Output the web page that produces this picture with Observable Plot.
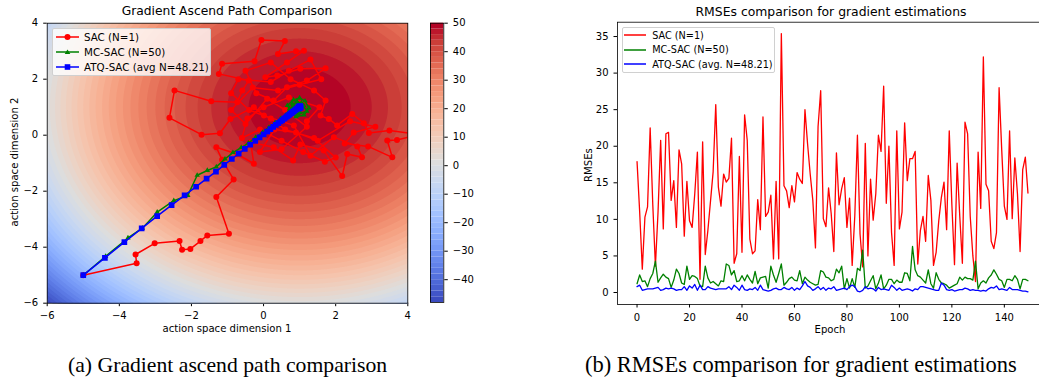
<!DOCTYPE html>
<html><head><meta charset="utf-8">
<script src="https://cdn.jsdelivr.net/npm/d3@7"></script>
<script src="https://cdn.jsdelivr.net/npm/@observablehq/plot@0.6"></script>
<style>
html,body{margin:0;padding:0;width:1039px;height:383px;overflow:hidden;background:#fff;}
#root{position:relative;width:1039px;height:383px;font-family:"DejaVu Sans",sans-serif;color:#000;overflow:hidden;}
.abs{position:absolute;white-space:nowrap;}
.c{transform:translate(-50%,-50%);}
.rot{transform:translate(-50%,-50%) rotate(-90deg);}
.legend{position:absolute;box-sizing:border-box;border:1px solid #d0d0d0;border-radius:2px;}
.row{position:absolute;left:0;height:14px;display:flex;align-items:center;}
.row svg{margin-right:5px;}
.cap{position:absolute;font-family:"Liberation Serif","Times New Roman",serif;font-size:21.7px;white-space:nowrap;transform:translateY(-50%);}
svg{overflow:visible}
</style></head><body><div id="root"></div>
<script>
// ---------- data ----------
const epochs = d3.range(0, 150);
const sacRmse = [17.9,11.0,3.2,10.3,11.7,22.5,12.0,3.6,11.0,20.8,
8.7,21.7,21.9,12.6,15.3,8.9,19.5,17.6,7.7,15.2,
9.8,8.9,13.5,19.2,1.8,20.6,5.2,8.5,12.5,16.5,
25.7,14.4,11.8,16.2,15.1,15.6,21.1,4.0,5.3,18.6,
5.5,24.3,20.8,7.3,5.3,5.7,12.7,8.6,24.0,10.4,
11.0,13.3,4.6,15.2,4.6,35.4,14.6,13.9,11.6,14.6,
12.4,16.4,15.5,14.9,25.0,20.3,16.2,12.6,6.1,22.7,
27.6,10.1,9.0,14.3,10.8,5.6,19.1,12.0,14.2,15.7,
8.9,12.9,3.7,10.5,21.5,8.0,3.5,20.4,5.0,15.5,
9.9,13.5,21.5,19.3,28.2,12.2,20.0,8.2,3.7,22.1,
8.7,11.0,23.2,15.3,18.3,18.3,19.3,3.9,8.5,10.4,
7.0,16.0,12.6,3.7,5.5,9.8,13.0,15.1,8.6,22.1,
12.0,3.8,17.7,10.5,4.0,23.3,21.7,10.4,5.0,1.5,
19.2,11.5,32.2,14.8,13.9,7.0,6.0,8.2,28.0,19.5,
11.8,10.0,22.1,10.1,18.4,13.5,5.6,16.8,18.5,13.6];
const mcRmse = [1.2,2.4,1.5,1.6,0.8,1.9,2.6,4.3,1.4,2.0,
2.5,2.1,1.9,0.7,1.7,3.2,2.6,1.3,1.1,3.6,
1.8,2.3,2.2,1.9,0.9,0.8,3.6,2.0,1.3,1.5,
1.2,0.9,1.6,1.5,3.9,3.7,2.4,3.0,1.5,1.6,
2.3,1.6,2.4,1.8,1.3,2.9,1.2,2.0,2.1,2.2,
0.6,3.6,2.4,1.4,2.6,3.9,1.0,1.4,1.9,2.1,
1.7,1.6,3.0,1.2,2.1,1.7,1.4,1.2,1.0,1.1,
3.0,2.8,2.1,2.0,1.6,1.8,3.2,2.7,3.6,0.5,
1.9,0.6,1.9,0.7,3.3,3.0,5.8,0.6,0.9,1.6,
2.3,0.5,1.3,2.4,0.5,1.0,1.8,1.8,1.2,1.7,
1.4,1.4,2.7,2.6,1.6,6.3,3.1,2.3,2.1,1.7,
1.3,3.1,1.2,0.6,2.7,1.8,1.3,1.2,1.0,0.6,
0.8,1.0,1.2,2.1,1.7,2.1,1.9,1.9,1.7,4.3,
0.5,1.3,1.6,1.3,2.0,2.4,3.1,2.5,1.8,1.6,
0.7,1.8,1.8,1.6,2.3,1.8,0.5,1.8,1.8,1.6];
const atqRmse = [0.8,1.0,0.3,0.4,0.5,0.5,0.5,0.6,0.7,0.3,
0.4,0.6,0.5,0.6,0.5,0.3,0.4,0.4,0.8,0.3,
0.9,0.6,1.1,0.3,1.0,0.4,0.4,0.8,0.6,0.5,
0.4,0.5,0.5,0.5,0.5,0.8,0.4,1.0,0.7,0.3,
1.0,0.4,0.3,0.5,0.4,0.7,0.3,1.0,0.4,0.3,
0.2,0.3,0.5,0.6,0.4,0.4,0.7,0.5,0.4,0.7,
0.3,0.6,0.4,0.9,1.5,0.9,0.7,0.3,0.5,0.8,
0.4,0.7,0.3,0.6,0.5,0.8,0.3,0.4,0.5,0.6,
0.4,0.8,1.0,0.8,0.2,0.1,0.3,0.8,0.5,0.6,
0.5,0.2,0.7,0.4,0.5,0.4,0.3,1.0,0.7,0.3,
0.6,0.3,0.4,0.5,0.4,0.2,0.5,0.4,0.8,0.8,
0.7,0.6,0.5,0.4,0.3,0.3,1.3,1.0,0.4,0.3,
0.4,0.2,0.3,0.4,0.4,0.6,0.5,0.3,0.4,0.3,
0.3,0.2,0.3,0.2,0.5,0.7,0.6,0.9,0.4,0.5,
0.4,0.3,0.7,0.4,0.4,0.4,0.3,0.2,0.2,0.1];

const sacPathX = [-5,-3.52,-3.55,-3.02,-2.33,-2.26,-2.03,-1.75,-1.56,-0.96,-1.31,-0.83,-1.15,-1.31,-0.72,-0.27,-0.36,0.28,0.82,1.02,1.67,2.18,2.32,2.73,2.60,1.95,1.30,0.84,0.01,-0.27,-0.92,-1.21,-1.72,-2.61,-2.47,-1.45,-0.73,-0.59,-0.41,-1.24,-1.15,-0.25,-0.06,0.59,0.40,0.90,1.12,0.65,0.05,0.38,1.02,1.72,1.20,0.65,0.28,-0.20,-0.50,0.20,0.75,1.40,1.72,1.58,1.81,2.04,2.46,2.78,2.92,3.49,4.30,3.70,3.43,3.57,2.90,2.25,2.50,3.10,2.40,1.50,0.90,0.30,-0.10,0.50,1.20,0.60,0.10,-0.50,-0.90,-0.30,0.40,1.00,1.60,1.30,0.70,0.20,-0.70,-0.90,-0.40,0.20,0.60,1.40,2.00,1.70,1.10,0.50,-0.10,-0.60,-0.45,0.00,0.70,1.55,1.20];
const sacPathY = [-5,-4.57,-4.26,-3.86,-3.78,-4.09,-4.06,-3.78,-3.58,-3.52,-2.21,-1.58,-0.88,-0.43,-0.68,-1.02,-0.25,-0.43,-0.90,-0.33,-0.55,-1.46,-0.67,-0.79,-0.40,-0.07,-0.73,0.35,0.70,1.00,0.58,0.07,0.02,0.62,1.60,1.21,1.18,1.60,1.95,2.19,2.55,2.64,3.40,3.36,2.90,3.00,3.02,2.60,2.07,2.13,2.37,2.39,1.95,1.71,1.24,1.50,2.30,2.60,2.00,1.60,1.24,0.70,0.58,0.35,0.76,0.43,0.08,0.17,0.02,-0.17,-0.19,-0.79,-0.40,-0.30,0.10,0.30,0.50,-0.20,0.10,0.20,-0.60,-0.50,0.30,0.90,1.30,0.40,0.90,1.70,1.60,1.80,2.00,2.70,2.30,1.90,2.00,1.50,0.90,0.60,0.20,-0.10,-0.80,-0.95,-0.60,-0.20,0.20,-0.10,0.60,1.00,1.35,1.00,0.50];
const mcPathX = [-5,-4.38,-3.76,-3.36,-2.95,-2.49,-2.10,-1.84,-1.56,-1.31,-1.07,-0.85,-0.62,-0.42,-0.22,-0.03,0.15,0.32,0.48,0.62,0.72,0.66,0.83,1.00,1.15,1.26,1.12,0.90,0.73,0.80,1.05,1.20,0.96,0.78,0.92,1.12,1.00,0.85,1.05];
const mcPathY = [-5,-4.33,-3.67,-3.32,-2.75,-2.34,-2.15,-1.43,-1.26,-1.13,-0.85,-0.62,-0.44,-0.28,-0.08,0.10,0.28,0.45,0.60,0.72,0.95,1.06,1.26,1.33,1.22,0.97,0.72,0.66,0.80,1.12,1.16,0.86,0.75,0.93,1.22,1.05,0.84,0.98,1.00];
const atqPathX = [-5,-4.40,-3.86,-3.38,-2.95,-2.55,-2.19,-1.87,-1.58,-1.32,-1.09,-0.88,-0.69,-0.52,-0.37,-0.23,-0.11,0.00,0.10,0.19,0.27,0.34,0.41,0.47,0.52,0.57,0.61,0.65,0.69,0.72,0.75,0.78,0.81,0.84,0.87,0.90,0.93,0.96,0.99,1.02,1.00,0.97,1.03,0.99,1.01];
const atqPathY = [-5,-4.38,-3.82,-3.33,-2.89,-2.50,-2.15,-1.84,-1.55,-1.30,-1.06,-0.85,-0.66,-0.49,-0.34,-0.20,-0.08,0.03,0.13,0.22,0.30,0.37,0.43,0.49,0.54,0.59,0.63,0.67,0.71,0.74,0.77,0.80,0.83,0.86,0.89,0.92,0.95,0.98,1.01,1.03,0.97,1.02,0.99,0.96,1.04];

// objective surface: peak value and its location
const fieldPeak = 50;
const fieldCenter = [1, 1];
const levels = d3.range(-48, 51, 2);
const pathTicks = [-6, -4, -2, 0, 2, 4];
const colorbarTicks = [-40, -30, -20, -10, 0, 10, 20, 30, 40, 50];
const epochTicks = [0, 20, 40, 60, 80, 100, 120, 140];
const rmseTicks = [0, 5, 10, 15, 20, 25, 30, 35];
const seriesNames = ["SAC (N=1)", "MC-SAC (N=50)", "ATQ-SAC (avg N=48.21)"];
const rmseNames = ["SAC (N=1)", "MC-SAC (N=50)", "ATQ-SAC (avg. N=48.21)"];
const seriesColors = ["#ff0000", "#008000", "#0000ff"];
const coolwarm = ["rgb(59,76,192)","rgb(77,104,215)","rgb(98,130,234)","rgb(119,154,247)","rgb(141,176,254)","rgb(163,194,255)","rgb(184,208,249)","rgb(204,217,238)","rgb(221,221,221)","rgb(236,211,197)","rgb(245,196,173)","rgb(247,177,148)","rgb(244,154,123)","rgb(236,127,99)","rgb(222,96,77)","rgb(203,62,56)","rgb(180,4,38)"];

// ---------- helpers ----------
const root = document.getElementById("root");
const fmt = d3.format("d");
const interp = d3.piecewise(d3.interpolateRgb, coolwarm);
const colorOpt = {type: "linear", domain: [levels[0], levels[levels.length - 2]], interpolate: interp};
const baseStyle = {fontFamily: "DejaVu Sans, sans-serif", fontSize: "10px", color: "#000", background: "transparent", overflow: "visible"};
function place(el, left, top) { el.style.position = "absolute"; el.style.left = left + "px"; el.style.top = top + "px"; root.appendChild(el); }
function text(str, x, y, cls, size) {
  const d = document.createElement("div");
  d.className = "abs " + cls; d.textContent = str;
  d.style.left = x + "px"; d.style.top = y + "px"; d.style.fontSize = size + "px";
  root.appendChild(d); return d;
}

// ---------- (a) gradient ascent paths ----------
const fieldValue = (x, y) => fieldPeak - (x - fieldCenter[0]) ** 2 - (y - fieldCenter[1]) ** 2;
const sacIdx = d3.range(sacPathX.length), mcIdx = d3.range(mcPathX.length), atqIdx = d3.range(atqPathX.length);
const left = Plot.plot({
  width: 420, height: 340,
  marginLeft: 46.7, marginTop: 22.7, marginRight: 12.7, marginBottom: 37.3,
  style: baseStyle,
  x: {domain: [-6, 4], ticks: pathTicks, tickFormat: fmt, tickSize: 3.5, label: null},
  y: {domain: [-6, 4], ticks: pathTicks, tickFormat: fmt, tickSize: 3.5, label: null},
  color: colorOpt,
  marks: [
    Plot.contour({x1: -6, y1: -6, x2: 4, y2: 4, value: fieldValue, fill: "value", thresholds: levels, stroke: "none", pixelSize: 1}),
    Plot.line(sacIdx, {x: i => sacPathX[i], y: i => sacPathY[i], stroke: seriesColors[0], strokeWidth: 1.5, clip: true}),
    Plot.dot(sacIdx, {x: i => sacPathX[i], y: i => sacPathY[i], fill: seriesColors[0], r: 3, clip: true}),
    Plot.line(mcIdx, {x: i => mcPathX[i], y: i => mcPathY[i], stroke: seriesColors[1], strokeWidth: 1.5, clip: true}),
    Plot.dot(mcIdx, {x: i => mcPathX[i], y: i => mcPathY[i], fill: seriesColors[1], symbol: "triangle", r: 2, clip: true}),
    Plot.line(atqIdx, {x: i => atqPathX[i], y: i => atqPathY[i], stroke: seriesColors[2], strokeWidth: 1.5, clip: true}),
    Plot.dot(atqIdx, {x: i => atqPathX[i], y: i => atqPathY[i], fill: seriesColors[2], symbol: "square", r: 3.2, clip: true}),
    Plot.frame({stroke: "#000", strokeWidth: 0.8})
  ]
});
place(left, 0, 0);

// colorbar
const bands = levels.slice(0, -1).map((lo, i) => ({lo, hi: levels[i + 1]}));
const cbar = Plot.plot({
  width: 60, height: 340,
  marginLeft: 2, marginRight: 44.7, marginTop: 22.7, marginBottom: 38,
  style: baseStyle,
  x: {domain: [0, 1], axis: null},
  y: {domain: [levels[0], levels[levels.length - 1]], ticks: colorbarTicks, tickFormat: fmt, tickSize: 3.5, axis: "right", label: null},
  color: colorOpt,
  marks: [
    Plot.rect(bands, {x1: 0, x2: 1, y1: "lo", y2: "hi", fill: "lo", inset: 0}),
    Plot.frame({stroke: "#000", strokeWidth: 0.8})
  ]
});
place(cbar, 428, 0);

text("Gradient Ascend Path Comparison", 227, 11, "c", 12.3);
text("action space dimension 1", 227, 328, "c", 10.1);
text("action space dimension 2", 14, 162, "rot", 10.1);

function legend(names, symbols, box) {
  const lg = document.createElement("div");
  lg.className = "legend";
  Object.assign(lg.style, {left: box.x + "px", top: box.y + "px", width: box.w + "px", height: box.h + "px", background: box.bg, fontSize: box.fs + "px"});
  names.forEach((name, k) => {
    const row = document.createElement("div");
    row.className = "row";
    row.style.top = (box.rowTop + k * box.rowGap - 7) + "px";
    row.style.left = box.padL + "px";
    const w = box.handle;
    let sym = "";
    const c = seriesColors[k], m = w / 2;
    if (symbols) {
      if (symbols[k] === "circle") sym = `<circle cx="${m}" cy="7" r="3" fill="${c}"/>`;
      if (symbols[k] === "triangle") sym = `<path d="M${m},4.6 L${m + 2.8},9 L${m - 2.8},9 Z" fill="${c}"/>`;
      if (symbols[k] === "square") sym = `<rect x="${m - 2.8}" y="4.2" width="5.6" height="5.6" fill="${c}"/>`;
    }
    row.innerHTML = `<svg width="${w}" height="14"><line x1="0" x2="${w}" y1="7" y2="7" stroke="${c}" stroke-width="1.5"/>${sym}</svg><span style="margin-left:${box.gap}px">${name}</span>`;
    lg.appendChild(row);
  });
  root.appendChild(lg);
}
legend(seriesNames, ["circle", "triangle", "square"], {x: 52, y: 28, w: 159, h: 48, bg: "rgba(255,255,255,0.8)", rowTop: 7.5, rowGap: 15.3, padL: 3, handle: 23, gap: 0, fs: 10.3});

// ---------- (b) RMSE comparison ----------
const right = Plot.plot({
  width: 492, height: 340,
  marginLeft: 57, marginTop: 21.7, marginRight: 5, marginBottom: 36,
  style: baseStyle,
  x: {domain: [-7.45, 156.45], ticks: epochTicks, tickFormat: fmt, tickSize: 3.5, label: null},
  y: {domain: [-1.64, 36.96], ticks: rmseTicks, tickFormat: fmt, tickSize: 3.5, label: null},
  marks: [
    Plot.line(epochs, {x: d => d, y: i => sacRmse[i], stroke: seriesColors[0], strokeWidth: 1.3}),
    Plot.line(epochs, {x: d => d, y: i => mcRmse[i], stroke: seriesColors[1], strokeWidth: 1.3}),
    Plot.line(epochs, {x: d => d, y: i => atqRmse[i], stroke: seriesColors[2], strokeWidth: 1.3}),
    Plot.frame({stroke: "#000", strokeWidth: 0.8})
  ]
});
place(right, 560, 0);

text("RMSEs comparison for gradient estimations", 831, 11, "c", 12.4);
text("Epoch", 830, 329, "c", 10.1);
text("RMSEs", 588, 165, "rot", 10.1);
legend(rmseNames, null, {x: 621.7, y: 26.7, w: 153, h: 46, bg: "#fff", rowTop: 7.6, rowGap: 14.5, padL: 1.5, handle: 22, gap: 1, fs: 9.7});

// captions
const capA = document.createElement("div"); capA.className = "cap"; capA.textContent = "(a) Gradient ascend path comparison";
capA.style.left = "68px"; capA.style.top = "365px"; root.appendChild(capA);
const capB = document.createElement("div"); capB.className = "cap"; capB.textContent = "(b) RMSEs comparison for gradient estimations";
capB.style.left = "585px"; capB.style.top = "365px"; capB.style.fontSize = "22.5px"; root.appendChild(capB);
</script></body></html>
